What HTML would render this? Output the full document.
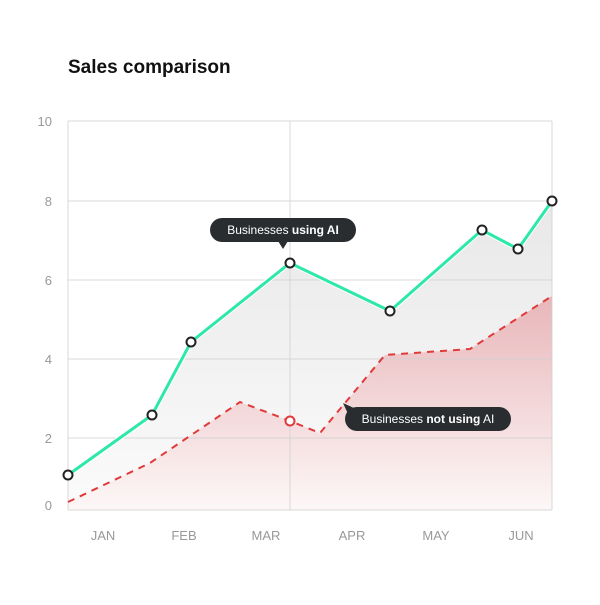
<!DOCTYPE html>
<html><head><style>
body{margin:0;background:#fff;font-family:"Liberation Sans",sans-serif}
</style></head><body>
<svg width="600" height="600" xmlns="http://www.w3.org/2000/svg" font-family="Liberation Sans, sans-serif">
<defs>
<linearGradient id="g1" x1="0" y1="0" x2="0" y2="1"><stop offset="0" stop-color="#e8e8e8"/><stop offset="1" stop-color="#fbfbfb"/></linearGradient>
<linearGradient id="g2" x1="0" y1="0" x2="0" y2="1"><stop offset="0" stop-color="#e8b6b9"/><stop offset="1" stop-color="#fdf7f7"/></linearGradient>
</defs>
<text x="68" y="73" font-size="19" font-weight="bold" fill="#111">Sales comparison</text>
<polygon fill="url(#g1)" points="68,475 152,415 191,342 290,263 390,311 482,230 518,249 552,201 552,510 68,510"/>
<polygon fill="url(#g2)" points="68,502 150,463 240,402 290,421 320,433 385,355 470,349 552,296 552,510 68,510"/>
<g stroke="#d0d0d0" stroke-width="1" stroke-opacity="0.8">
<line x1="68" y1="121" x2="552" y2="121"/><line x1="68" y1="201" x2="552" y2="201"/>
<line x1="68" y1="280" x2="552" y2="280"/><line x1="68" y1="359" x2="552" y2="359"/>
<line x1="68" y1="438" x2="552" y2="438"/><line x1="68" y1="510" x2="552" y2="510"/>
<line x1="68" y1="121" x2="68" y2="510"/><line x1="552" y1="121" x2="552" y2="510"/>
<line x1="290" y1="121" x2="290" y2="510"/>
</g>
<polyline fill="none" stroke="#e03a3a" stroke-width="2" stroke-dasharray="7,6" points="68,502 150,463 240,402 290,421 320,433 385,355 470,349 552,296"/>
<polyline fill="none" stroke="#fff" stroke-width="5" points="68,475 152,415 191,342 290,263 390,311 482,230 518,249 552,201"/>
<polyline fill="none" stroke="#2de8a8" stroke-width="3" points="68,475 152,415 191,342 290,263 390,311 482,230 518,249 552,201"/>
<g fill="#fff" stroke="#222" stroke-width="2">
<circle cx="68" cy="475" r="4.5"/><circle cx="152" cy="415" r="4.5"/><circle cx="191" cy="342" r="4.5"/>
<circle cx="290" cy="263" r="4.5"/><circle cx="390" cy="311" r="4.5"/><circle cx="482" cy="230" r="4.5"/>
<circle cx="518" cy="249" r="4.5"/><circle cx="552" cy="201" r="4.5"/>
</g>
<circle cx="290" cy="421" r="4.5" fill="#fff" stroke="#e03a3a" stroke-width="2"/>
<g font-size="13" fill="#999" text-anchor="end">
<text x="52" y="126">10</text><text x="52" y="206">8</text><text x="52" y="285">6</text>
<text x="52" y="364">4</text><text x="52" y="443">2</text><text x="52" y="510">0</text>
</g>
<g font-size="13" fill="#999" text-anchor="middle">
<text x="103" y="540">JAN</text><text x="184" y="540">FEB</text><text x="266" y="540">MAR</text>
<text x="352" y="540">APR</text><text x="436" y="540">MAY</text><text x="521" y="540">JUN</text>
</g>
<rect x="210" y="218" width="146" height="24" rx="12" fill="#2a2d30"/>
<polygon points="278,241 288,241 283,249" fill="#2a2d30"/>
<text x="283" y="234" font-size="12" fill="#fff" text-anchor="middle">Businesses <tspan font-weight="bold">using AI</tspan></text>
<rect x="345" y="407" width="166" height="24" rx="12" fill="#2a2d30"/>
<polygon points="343,403 356,409 349,416" fill="#2a2d30"/>
<text x="428" y="423" font-size="12" fill="#fff" text-anchor="middle">Businesses <tspan font-weight="bold">not using</tspan> AI</text>
</svg>
</body></html>
